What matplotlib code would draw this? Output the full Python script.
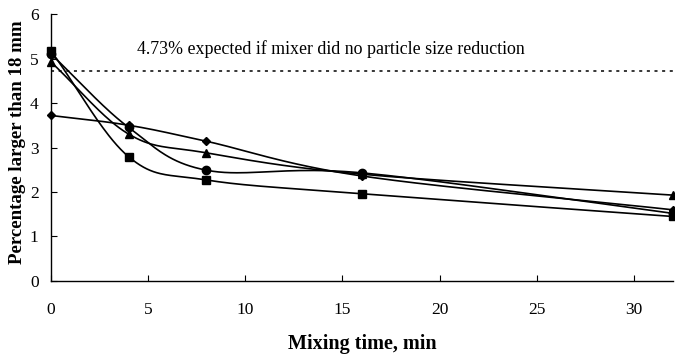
import numpy as np
import matplotlib
matplotlib.use("Agg")
import matplotlib.pyplot as plt

plt.rcParams['font.family'] = ['Liberation Serif', 'DejaVu Serif']

# mixing times (min) and percentage of particles larger than 18 mm
temps = [0, 4, 8, 16, 32]
serie_losange = [3.72, 3.50, 3.14, 2.36, 1.60]
serie_rond = [5.10, 3.45, 2.49, 2.43, 1.52]
serie_triangle = [4.92, 3.30, 2.88, 2.40, 1.93]
serie_carre = [5.17, 2.79, 2.27, 1.96, 1.45]
attendu = 4.73
texte_attendu = "4.73% expected if mixer did no particle size reduction"


def lissage(x, y, n=40):
    """Courbe lissée type Catmull-Rom passant par tous les points"""
    x = np.asarray(x, float)
    y = np.asarray(y, float)
    px = np.concatenate(([2 * x[0] - x[1]], x, [2 * x[-1] - x[-2]]))
    py = np.concatenate(([2 * y[0] - y[1]], y, [2 * y[-1] - y[-2]]))
    xs, ys = [], []
    for i in range(1, len(px) - 2):
        p0x, p1x, p2x, p3x = px[i - 1], px[i], px[i + 1], px[i + 2]
        p0y, p1y, p2y, p3y = py[i - 1], py[i], py[i + 1], py[i + 2]
        # points de contrôle de Bézier
        c1x, c1y = p1x + (p2x - p0x) / 6, p1y + (p2y - p0y) / 6
        c2x, c2y = p2x - (p3x - p1x) / 6, p2y - (p3y - p1y) / 6
        t = np.linspace(0, 1, n)
        bx = (1 - t) ** 3 * p1x + 3 * (1 - t) ** 2 * t * c1x + 3 * (1 - t) * t ** 2 * c2x + t ** 3 * p2x
        by = (1 - t) ** 3 * p1y + 3 * (1 - t) ** 2 * t * c1y + 3 * (1 - t) * t ** 2 * c2y + t ** 3 * p2y
        xs.extend(bx)
        ys.extend(by)
    return np.array(xs), np.array(ys)


fig = plt.figure(figsize=(6.75, 3.55), dpi=100)
ax = fig.add_axes([0.0756, 0.2085, 0.921, 0.752])

for serie, marqueur, taille in [(serie_losange, 'D', 4.2),
                                (serie_rond, 'o', 6),
                                (serie_triangle, '^', 6),
                                (serie_carre, 's', 6)]:
    lx, ly = lissage(temps, serie)
    ax.plot(lx, ly, color='black', lw=1.2, zorder=2)
    ax.plot(temps, serie, ls='none', marker=marqueur, ms=taille,
            color='black', clip_on=False, zorder=3)

ax.plot([0, 32], [attendu, attendu], color='black', lw=1.1,
        ls=(0, (2, 3)), zorder=1)
ax.text(4.45, 5.21, texte_attendu, fontsize=12.9, va='center', ha='left')

ax.set_xlim(0, 32)
ax.set_ylim(0, 6)
ax.set_xticks([0, 5, 10, 15, 20, 25, 30])
ax.set_yticks([0, 1, 2, 3, 4, 5, 6])
ax.tick_params(direction='in', length=4, labelsize=12.5, width=0.8)
ax.tick_params(axis='x', pad=15)
ax.tick_params(axis='y', pad=9)
for cote in ['top', 'right']:
    ax.spines[cote].set_visible(False)
for cote in ['left', 'bottom']:
    ax.spines[cote].set_linewidth(1.0)

ax.set_xlabel("Mixing time, min", fontsize=14.5, fontweight='bold', labelpad=12)
ax.set_ylabel("Percentage larger than 18 mm", fontsize=13.6, fontweight='bold')
ax.yaxis.set_label_coords(-0.04, 0.52)

fig.savefig("out.png", dpi=100)
